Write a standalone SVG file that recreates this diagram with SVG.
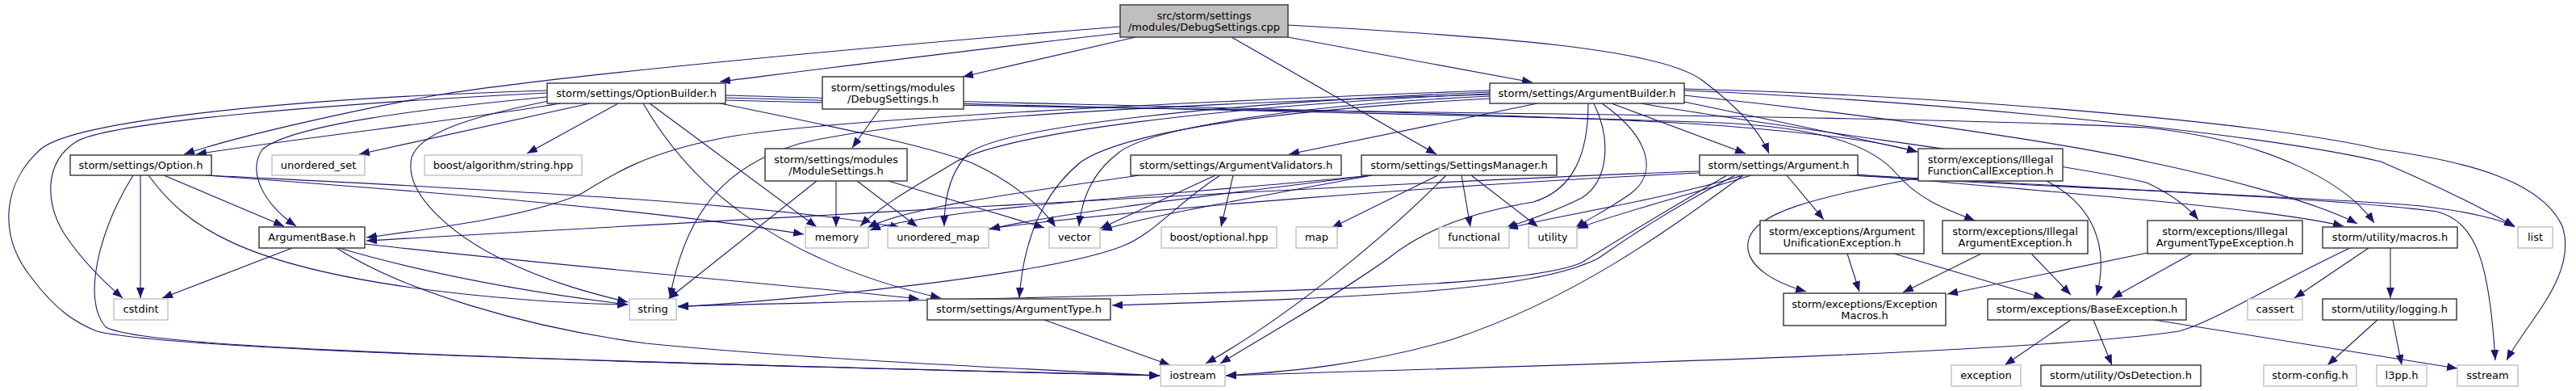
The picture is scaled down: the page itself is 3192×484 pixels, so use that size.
<svg xmlns="http://www.w3.org/2000/svg" width="3192" height="484" viewBox="0 0 3192 484">
<style>
.n rect{fill:#fff;stroke:#333;stroke-width:1.4}
.x rect{fill:#fff;stroke:#bfbfbf;stroke-width:1.4}
.r rect{fill:#bfbfbf;stroke:#333;stroke-width:1.4}
text{font-family:"DejaVu Sans","Liberation Sans",sans-serif;font-size:13px;fill:#000;text-anchor:middle}
#edges path{fill:none;stroke:#191970;stroke-width:1.1;marker-end:url(#a)}
</style>
<defs>
<marker id="a" viewBox="0 0 13 10" refX="13" refY="5" markerWidth="13" markerHeight="10" markerUnits="userSpaceOnUse" orient="auto"><path d="M0,0L13,5L0,10z" fill="#191970" stroke="none"/></marker>
</defs>
<rect width="3192" height="484" fill="#fff"/>
<g id="edges">
<path d="M1388,33 C1050,60 680,95 540,118 C420,140 290,170 228,191"/>
<path d="M1388,41 C1200,62 1020,85 892,101"/>
<path d="M1407,46 L1193,95"/>
<path d="M1526,46 L1780,191"/>
<path d="M1596,46 L1899,102"/>
<path d="M1596,31 C1850,45 2060,60 2110,100 C2150,130 2180,160 2192,190"/>
<path d="M1090,135 L1056,183"/>
<path d="M694,128 C600,145 360,172 243,191"/>
<path d="M731,128 L445,191"/>
<path d="M766,128 L653,190"/>
<path d="M678,120 C520,135 360,155 325,185 C305,215 330,255 367,280"/>
<path d="M678,115 C420,128 140,150 95,175 C55,200 55,250 80,290 C100,320 130,350 152,369"/>
<path d="M678,112 C350,122 90,150 50,185 C5,225 -5,290 40,345 C70,385 95,400 120,410 C200,430 600,445 1437,465"/>
<path d="M680,125 C580,145 520,165 510,195 C500,240 560,290 620,320 C680,350 740,365 778,374"/>
<path d="M805,128 L1012,281"/>
<path d="M797,128 C850,220 950,320 1166,369"/>
<path d="M892,128 C1000,150 1150,180 1205,202 C1255,225 1290,255 1308,281"/>
<path d="M899,118 C1300,130 1950,140 2150,157 C2260,166 2330,175 2376,188"/>
<path d="M899,121 C1400,135 2000,145 2150,153 C2260,160 2320,180 2350,215 C2380,250 2420,262 2447,273"/>
<path d="M899,124 C1500,140 2300,140 2660,158 C2820,175 2910,230 2942,276"/>
<path d="M165,217 C125,280 100,370 131,405 C170,425 400,440 1437,465"/>
<path d="M174,217 L174,369"/>
<path d="M184,217 C230,280 300,330 540,360 C640,372 720,376 778,377"/>
<path d="M203,217 L352,280"/>
<path d="M255,217 C500,235 800,258 996,290"/>
<path d="M257,217 C550,232 950,250 1116,282"/>
<path d="M362,307 L201,369"/>
<path d="M420,307 C550,345 680,365 778,377"/>
<path d="M452,302 C700,330 1000,355 1139,370"/>
<path d="M417,307 C500,360 650,405 800,425 C1000,445 1300,458 1437,465"/>
<path d="M1012,224 L828,370"/>
<path d="M1036,224 L1036,281"/>
<path d="M1062,224 L1137,281"/>
<path d="M1101,224 L1294,282"/>
<path d="M1412,217 C1250,240 1120,258 1075,282"/>
<path d="M1506,217 L1363,283"/>
<path d="M1512,217 C1460,250 1430,290 1390,305 C1300,340 1000,370 840,380"/>
<path d="M1528,217 L1513,281"/>
<path d="M1782,217 L1650,282"/>
<path d="M1792,217 C1720,290 1600,390 1494,450"/>
<path d="M1811,217 L1822,281"/>
<path d="M1823,217 L1906,281"/>
<path d="M1700,217 C1500,238 1150,258 1078,285"/>
<path d="M1700,217 C1500,242 1300,265 1226,284"/>
<path d="M1700,217 C1550,245 1420,268 1365,285"/>
<path d="M1905,128 L1597,191"/>
<path d="M1997,128 L2163,190"/>
<path d="M1975,128 C1998,175 1992,225 1960,245 C1920,265 1885,275 1866,282"/>
<path d="M1985,128 C2045,170 2055,215 2020,240 C1995,258 1970,270 1952,282"/>
<path d="M1968,128 C1968,190 1950,235 1900,250 C1830,262 1770,280 1720,320 C1650,370 1560,420 1512,450"/>
<path d="M1846,117 C1400,130 1100,150 990,178 C900,205 850,260 830,369"/>
<path d="M1846,122 C1600,135 1400,160 1340,200 C1290,240 1268,300 1263,369"/>
<path d="M1846,112 C1500,125 1000,148 890,172 C800,190 760,215 720,240 C650,270 520,285 454,294"/>
<path d="M1846,116 C1500,132 1250,165 1185,200 C1135,230 1090,255 1066,280"/>
<path d="M1846,114 C1500,128 1240,158 1200,190 C1175,215 1170,250 1170,280"/>
<path d="M1846,119 C1600,130 1420,160 1385,190 C1352,215 1340,250 1337,280"/>
<path d="M2087,126 C2200,150 2300,170 2376,188"/>
<path d="M2033,128 C2250,165 2550,200 2660,226 C2690,240 2710,255 2724,272"/>
<path d="M2087,118 C2300,140 2550,175 2660,200 C2780,225 2880,255 2921,277"/>
<path d="M2087,112 C2400,125 2800,165 2950,200 C3020,230 3080,260 3116,280"/>
<path d="M2087,110 C2400,118 2800,150 2950,185 C3060,200 3150,225 3175,280 C3195,340 3130,400 3106,446"/>
<path d="M2214,217 L2260,272"/>
<path d="M2106,212 C1800,222 1100,262 454,298"/>
<path d="M2106,214 C1800,228 1400,260 1226,283"/>
<path d="M2160,217 C2050,250 1920,268 1868,283"/>
<path d="M2170,217 C2080,245 1990,268 1955,283"/>
<path d="M2150,217 C2050,270 2010,300 1980,320 C1900,360 1700,368 1378,378"/>
<path d="M2140,217 C2040,275 2000,300 1960,325 C1880,360 1500,362 840,379"/>
<path d="M2160,217 C2060,290 1950,370 1800,420 C1700,450 1600,460 1519,465"/>
<path d="M2292,217 C2500,230 2900,245 3000,255 C3060,262 3100,272 3116,281"/>
<path d="M2292,216 C2500,228 2900,245 3020,262 C3070,275 3085,330 3092,446"/>
<path d="M2292,215 C2500,235 2800,255 2904,280"/>
<path d="M2289,314 L2304,361"/>
<path d="M2347,314 L2533,369"/>
<path d="M2455,314 L2358,362"/>
<path d="M2517,314 L2566,365"/>
<path d="M2377,220 C2250,245 2172,262 2166,300 C2162,330 2200,350 2238,361"/>
<path d="M2536,224 C2590,252 2615,300 2598,366"/>
<path d="M2661,313 L2413,364"/>
<path d="M2716,314 L2617,369"/>
<path d="M2566,396 L2484,452"/>
<path d="M2594,396 L2617,452"/>
<path d="M2669,396 L3045,456"/>
<path d="M2935,307 L2843,369"/>
<path d="M2962,307 L2962,369"/>
<path d="M2912,307 C2820,350 2740,400 2700,410 C2500,440 1800,455 1519,465"/>
<path d="M2946,396 L2884,452"/>
<path d="M2965,396 L2976,452"/>
<path d="M1294,396 L1450,452"/>
</g>
<g id="n_cpp" class="r"><rect x="1388" y="6" width="208" height="40"/><text x="1492" y="23.5">src/storm/settings</text><text x="1492" y="37.5">/modules/DebugSettings.cpp</text></g>
<g id="n_optionbuilder" class="n"><rect x="678" y="103" width="221" height="25"/><text x="788.5" y="120">storm/settings/OptionBuilder.h</text></g>
<g id="n_debugsettings" class="n"><rect x="1019" y="95" width="175" height="40"/><text x="1106.5" y="112.5">storm/settings/modules</text><text x="1106.5" y="126.5">/DebugSettings.h</text></g>
<g id="n_argumentbuilder" class="n"><rect x="1846" y="103" width="241" height="25"/><text x="1966.5" y="120">storm/settings/ArgumentBuilder.h</text></g>
<g id="n_option" class="n"><rect x="87" y="192" width="175" height="25"/><text x="174.5" y="209">storm/settings/Option.h</text></g>
<g id="n_unordered_set" class="x"><rect x="337" y="192" width="115" height="25"/><text x="394.5" y="209">unordered_set</text></g>
<g id="n_boost_string" class="x"><rect x="526" y="192" width="195" height="25"/><text x="623.5" y="209">boost/algorithm/string.hpp</text></g>
<g id="n_modulesettings" class="n"><rect x="948" y="184" width="176" height="40"/><text x="1036" y="201.5">storm/settings/modules</text><text x="1036" y="215.5">/ModuleSettings.h</text></g>
<g id="n_argumentvalidators" class="n"><rect x="1401" y="192" width="261" height="25"/><text x="1531.5" y="209">storm/settings/ArgumentValidators.h</text></g>
<g id="n_settingsmanager" class="n"><rect x="1687" y="192" width="242" height="25"/><text x="1808" y="209">storm/settings/SettingsManager.h</text></g>
<g id="n_argument" class="n"><rect x="2106" y="192" width="196" height="25"/><text x="2204" y="209">storm/settings/Argument.h</text></g>
<g id="n_illegalfunctioncall" class="n"><rect x="2377" y="184" width="179" height="40"/><text x="2466.5" y="201.5">storm/exceptions/Illegal</text><text x="2466.5" y="215.5">FunctionCallException.h</text></g>
<g id="n_argumentbase" class="n"><rect x="321" y="281" width="131" height="26"/><text x="386.5" y="298">ArgumentBase.h</text></g>
<g id="n_memory" class="x"><rect x="998" y="281" width="78" height="26"/><text x="1037" y="298">memory</text></g>
<g id="n_unordered_map" class="x"><rect x="1100" y="281" width="125" height="26"/><text x="1162.5" y="298">unordered_map</text></g>
<g id="n_vector" class="x"><rect x="1300" y="281" width="63" height="26"/><text x="1331.5" y="298">vector</text></g>
<g id="n_boost_optional" class="x"><rect x="1439" y="281" width="143" height="26"/><text x="1510.5" y="298">boost/optional.hpp</text></g>
<g id="n_map" class="x"><rect x="1606" y="281" width="51" height="26"/><text x="1631.5" y="298">map</text></g>
<g id="n_functional" class="x"><rect x="1783" y="281" width="87" height="26"/><text x="1826.5" y="298">functional</text></g>
<g id="n_utility" class="x"><rect x="1894" y="281" width="60" height="26"/><text x="1924" y="298">utility</text></g>
<g id="n_argunif" class="n"><rect x="2181" y="273" width="203" height="41"/><text x="2282.5" y="290.5">storm/exceptions/Argument</text><text x="2282.5" y="305">UnificationException.h</text></g>
<g id="n_illegalarg" class="n"><rect x="2407" y="273" width="180" height="41"/><text x="2497" y="290.5">storm/exceptions/Illegal</text><text x="2497" y="305">ArgumentException.h</text></g>
<g id="n_illegalargtype" class="n"><rect x="2661" y="273" width="192" height="41"/><text x="2757" y="290.5">storm/exceptions/Illegal</text><text x="2757" y="305">ArgumentTypeException.h</text></g>
<g id="n_macros" class="n"><rect x="2878" y="281" width="167" height="26"/><text x="2961.5" y="298">storm/utility/macros.h</text></g>
<g id="n_list" class="x"><rect x="3120" y="281" width="43" height="26"/><text x="3141.5" y="298">list</text></g>
<g id="n_cstdint" class="x"><rect x="141" y="370" width="67" height="26"/><text x="174.5" y="387">cstdint</text></g>
<g id="n_string" class="x"><rect x="780" y="370" width="58" height="26"/><text x="809" y="387">string</text></g>
<g id="n_argumenttype" class="n"><rect x="1149" y="370" width="227" height="26"/><text x="1262.5" y="387">storm/settings/ArgumentType.h</text></g>
<g id="n_exceptionmacros" class="n"><rect x="2210" y="363" width="201" height="40"/><text x="2310.5" y="380.5">storm/exceptions/Exception</text><text x="2310.5" y="394.5">Macros.h</text></g>
<g id="n_baseexception" class="n"><rect x="2463" y="370" width="246" height="26"/><text x="2586" y="387">storm/exceptions/BaseException.h</text></g>
<g id="n_cassert" class="x"><rect x="2785" y="370" width="68" height="26"/><text x="2819" y="387">cassert</text></g>
<g id="n_logging" class="n"><rect x="2878" y="370" width="166" height="26"/><text x="2961" y="387">storm/utility/logging.h</text></g>
<g id="n_iostream" class="x"><rect x="1438" y="452" width="80" height="26"/><text x="1478" y="469">iostream</text></g>
<g id="n_exception" class="x"><rect x="2418" y="452" width="86" height="26"/><text x="2461" y="469">exception</text></g>
<g id="n_osdetection" class="n"><rect x="2529" y="452" width="198" height="26"/><text x="2628" y="469">storm/utility/OsDetection.h</text></g>
<g id="n_stormconfig" class="x"><rect x="2805" y="452" width="115" height="26"/><text x="2862.5" y="469">storm-config.h</text></g>
<g id="n_l3pp" class="x"><rect x="2945" y="452" width="62" height="26"/><text x="2976" y="469">l3pp.h</text></g>
<g id="n_sstream" class="x"><rect x="3045" y="452" width="75" height="26"/><text x="3082.5" y="469">sstream</text></g>
</svg>
